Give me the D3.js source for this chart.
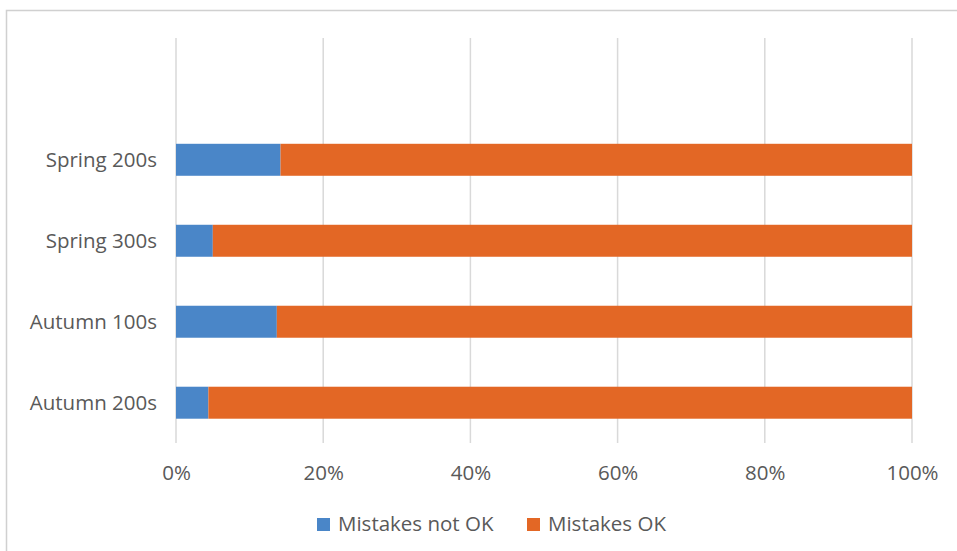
<!DOCTYPE html>
<html>
<head>
<meta charset="utf-8">
<script src="https://cdn.jsdelivr.net/npm/d3@7"></script>
<style>
  html, body { margin: 0; padding: 0; background: #fff; }
  svg text { font-family: "Open Sans", "DejaVu Sans", sans-serif; fill: #595959; }
</style>
</head>
<body>
<svg id="chart" width="957" height="551"></svg>
<script>
// Share of students, per cohort, split by attitude to mistakes (percent)
const categories = ["Spring 200s", "Spring 300s", "Autumn 100s", "Autumn 200s"];
const mistakesNotOK = [14.2, 5.0, 13.7, 4.4];
const mistakesOK = [85.8, 95.0, 86.3, 95.6];
const seriesNames = ["Mistakes not OK", "Mistakes OK"];
const seriesColors = ["#4a86c8", "#e36725"];
const tickValues = [0, 20, 40, 60, 80, 100];

const svg = d3.select("#chart");
const fontSize = 20.5;

// outer chart frame
svg.append("rect")
  .attr("x", 6.5).attr("y", 10.5)
  .attr("width", 960).attr("height", 560)
  .attr("fill", "none").attr("stroke", "#d0d0d0").attr("stroke-width", 1.5);

const x = d3.scaleLinear().domain([0, 100]).range([176, 912]);
const y = d3.scaleBand().domain(categories).range([119.5, 443]).paddingInner(0.605).paddingOuter(0.3);
const gridTop = 38, gridBottom = 443;

// vertical gridlines
svg.append("g").selectAll("line").data(tickValues).join("line")
  .attr("x1", d => x(d)).attr("x2", d => x(d))
  .attr("y1", gridTop).attr("y2", gridBottom)
  .attr("stroke", "#d9d9d9").attr("stroke-width", 1.5);

// x axis labels
const xAxis = d3.axisBottom(x).tickValues(tickValues).tickFormat(d => d + "%").tickSize(0).tickPadding(0);
const gx = svg.append("g").attr("transform", `translate(0,480)`).call(xAxis);
gx.select(".domain").remove();
gx.selectAll("text").attr("font-size", fontSize).attr("dy", 0).style("font-family", '"Open Sans", sans-serif').attr("fill", "#595959");

// category labels
const yAxis = d3.axisLeft(y).tickSize(0).tickPadding(0);
const gy = svg.append("g").attr("transform", `translate(157,0)`).call(yAxis);
gy.select(".domain").remove();
gy.selectAll("text").attr("font-size", fontSize).attr("dy", "0.35em").style("font-family", '"Open Sans", sans-serif').attr("fill", "#595959");

// stacked bars
const stackData = categories.map((c, i) => ({ cat: c, a: mistakesNotOK[i], b: mistakesOK[i] }));
const stacked = d3.stack().keys(["a", "b"])(stackData);
svg.append("g").selectAll("g").data(stacked).join("g")
  .attr("fill", (d, i) => seriesColors[i])
  .selectAll("rect").data(d => d).join("rect")
  .attr("x", d => x(d[0]))
  .attr("width", d => x(d[1]) - x(d[0]))
  .attr("y", d => y(d.data.cat))
  .attr("height", y.bandwidth());

// legend
const legendItems = [
  { name: seriesNames[0], color: seriesColors[0], x: 317 },
  { name: seriesNames[1], color: seriesColors[1], x: 527 }
];
const lg = svg.append("g").selectAll("g").data(legendItems).join("g")
  .attr("transform", d => `translate(${d.x},518)`);
lg.append("rect").attr("width", 13).attr("height", 13).attr("fill", d => d.color);
lg.append("text").attr("x", 21).attr("y", 13).attr("font-size", fontSize).text(d => d.name);
</script>
</body>
</html>
